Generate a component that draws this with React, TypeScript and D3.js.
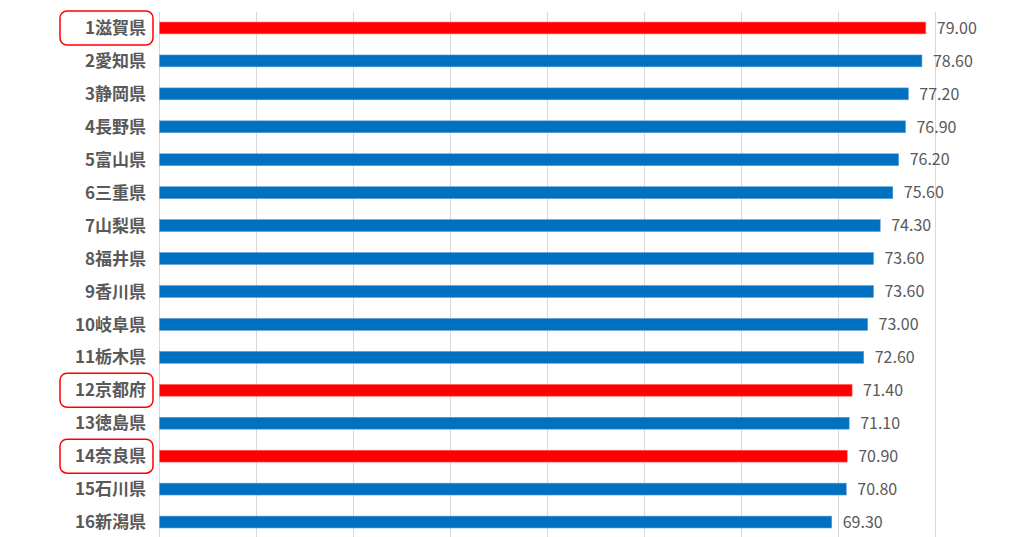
import React from 'react'
import * as d3 from 'd3'

const prefectures = [
  '1滋賀県', '2愛知県', '3静岡県', '4長野県', '5富山県', '6三重県', '7山梨県', '8福井県',
  '9香川県', '10岐阜県', '11栃木県', '12京都府', '13徳島県', '14奈良県', '15石川県', '16新潟県',
]
const values = [79.0, 78.6, 77.2, 76.9, 76.2, 75.6, 74.3, 73.6, 73.6, 73.0, 72.6, 71.4, 71.1, 70.9, 70.8, 69.3]
// prefectures drawn in red and boxed
const highlighted = ['1滋賀県', '12京都府', '14奈良県']
const xTicks = [0, 10, 20, 30, 40, 50, 60, 70, 80]

const W = 1024
const H = 537

export default function App() {
  const x = d3.scaleLinear().domain([0, 80]).range([159.5, 935.5])
  const y = d3.scaleBand<string>().domain(prefectures).range([11.5, 538.5]).paddingInner(0.64).paddingOuter(0.32)
  const bh = y.bandwidth()

  return (
    <svg width={W} height={H} style={{ position: 'absolute', left: 0, top: 0, background: '#fff' }}>
      <g>
        {xTicks.map(t => (
          <line key={t} x1={Math.round(x(t)) - 0.5} x2={Math.round(x(t)) - 0.5} y1={12} y2={H}
            stroke="#d9d9d9" strokeWidth={1} />
        ))}
      </g>
      <g>
        {prefectures.map((p, i) => {
          const red = highlighted.includes(p)
          const cy = (y(p) ?? 0) + bh / 2
          return (
            <g key={p}>
              <rect x={x(0)} y={cy - bh / 2} width={x(values[i]) - x(0)} height={bh}
                fill={red ? '#ff0000' : '#0070c0'} stroke={red ? '#ff6b6b' : '#5b9bd5'} strokeWidth={0.6} />
              <text x={x(values[i]) + 11} y={cy} dy="0.36em" fontSize={16}
                fontFamily="'Noto Sans CJK JP', 'Noto Sans', sans-serif" fill="#595959">
                {values[i].toFixed(2)}
              </text>
              <text x={146} y={cy} dy="0.36em" textAnchor="end" fontSize={17} fontWeight={700}
                fontFamily="'Noto Sans CJK JP', sans-serif" fill="#595959">
                {p}
              </text>
              {red && (
                <rect x={60} y={cy - 17} width={93} height={34} rx={7} fill="none"
                  stroke="#ff0000" strokeWidth={1.5} />
              )}
            </g>
          )
        })}
      </g>
    </svg>
  )
}
